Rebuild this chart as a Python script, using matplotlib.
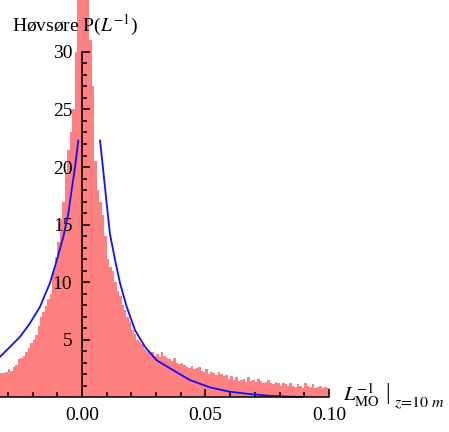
import matplotlib
matplotlib.use('Agg')
import matplotlib.pyplot as plt
import numpy as np
from matplotlib.ticker import FixedLocator, FormatStrFormatter

plt.rcParams['font.family'] = 'Liberation Serif'
plt.rcParams['mathtext.fontset'] = 'stix'

# histogram of inverse Obukhov length, bins of 0.001 starting at -0.034
bin_start = -0.034
bin_width = 0.001
density = [
    2.0, 2.1, 2.1, 2.2, 2.4, 2.3, 2.6, 2.8, 3.3, 3.4,
    3.6, 3.9, 4.3, 4.7, 5.0, 5.4, 6.2, 7.0, 7.4, 7.9,
    8.5, 9.0, 11.0, 12.2, 13.5, 15.5, 17.0, 19.5, 21.5, 23.0,
    25.0, 30.0, 36.0, 38.0, 38.5, 37.0, 36.0, 31.0, 27.0, 20.5,
    18.0, 17.0, 15.8, 14.0, 12.0, 11.3, 11.0, 10.0, 9.2, 8.8,
    8.0, 7.6, 7.0, 6.5, 5.8, 5.5, 5.0, 4.8, 4.6, 4.2,
    4.0, 3.8, 3.9, 3.6, 3.7, 3.5, 3.9, 3.6, 3.4, 3.3,
    3.1, 3.4, 3.0, 2.9, 3.0, 2.8, 2.6, 2.5, 2.7, 2.4,
    2.5, 2.6, 2.3, 2.2, 2.4, 2.0, 2.2, 2.1, 1.9, 2.2,
    2.0, 1.8, 1.9, 1.6, 1.8, 1.5, 1.7, 1.4, 1.5, 1.6,
    1.3, 1.7, 1.4, 1.5, 1.3, 1.6, 1.4, 1.2, 1.3, 1.5,
    1.2, 1.1, 1.3, 1.2, 1.0, 1.2, 1.1, 1.0, 1.2, 1.0,
    0.9, 1.1, 1.0, 0.8, 1.2, 1.0, 0.9, 1.1, 0.8, 0.9,
    1.0, 0.8, 0.9, 0.8,
]

# fitted curves, unstable (left) and stable (right) branch
fit_left_x = [-0.0332, -0.0291, -0.0251, -0.0211, -0.0170, -0.0130,
              -0.0102, -0.0076, -0.0055, -0.0042, -0.0028, -0.0015]
fit_left_y = [3.5, 4.37, 5.24, 6.4, 7.85, 9.9, 11.9, 13.9, 16.0, 18.0,
              20.0, 22.3]
fit_right_x = [0.0073, 0.0086, 0.0100, 0.0113, 0.0134, 0.0154, 0.0181,
               0.0215, 0.0255, 0.0302, 0.0356, 0.0437, 0.0518, 0.0599,
               0.0680, 0.0761, 0.0842, 0.0895]
fit_right_y = [22.3, 19.7, 16.8, 14.2, 11.9, 9.9, 7.85, 5.8, 4.37, 3.2,
               2.5, 1.48, 0.84, 0.46, 0.26, 0.11, 0.03, 0.01]

xmajor = [0.0, 0.05, 0.10]
xminor = [-0.03, -0.02, -0.01, 0.01, 0.02, 0.03, 0.04, 0.06, 0.07, 0.08, 0.09]
ymajor = [5, 10, 15, 20, 25, 30]
yminor = [v for v in range(1, 31) if v % 5 != 0]

fig = plt.figure(figsize=(4.49, 4.32), dpi=100)
ax = fig.add_axes([0, 0, 1, 1])

lefts = bin_start + bin_width * np.arange(len(density))
ax.bar(lefts, density, width=bin_width, align='edge', color='#ff8080',
       linewidth=0, zorder=1)

ax.plot(fit_left_x, fit_left_y, color='#1010ff', lw=1.3, zorder=3,
        solid_joinstyle='round')
ax.plot(fit_right_x, fit_right_y, color='#1010ff', lw=1.3, zorder=3,
        solid_joinstyle='round')

xlo = -0.0332
ax.set_xlim(xlo, 0.1486)
ax.set_ylim(-3.04, 34.52)

for side in ['top', 'right']:
    ax.spines[side].set_visible(False)
ax.spines['left'].set_position(('data', 0))
ax.spines['bottom'].set_position(('data', 0))
ax.spines['left'].set_bounds(0, 30)
ax.spines['bottom'].set_bounds(xlo, 0.10)
for side in ['left', 'bottom']:
    ax.spines[side].set_linewidth(1.1)
    ax.spines[side].set_zorder(4)

ax.xaxis.set_major_locator(FixedLocator(xmajor))
ax.xaxis.set_minor_locator(FixedLocator(xminor))
ax.xaxis.set_major_formatter(FormatStrFormatter('%.2f'))
ax.yaxis.set_major_locator(FixedLocator(ymajor))
ax.yaxis.set_minor_locator(FixedLocator(yminor))

ax.tick_params(which='both', direction='in', width=1.1, labelsize=14)
ax.tick_params(which='major', length=6)
ax.tick_params(which='minor', length=3.8)
ax.tick_params(axis='x', pad=7)
ax.tick_params(axis='y', pad=7)

fig.text(12 / 449, 1 - 25 / 432, r'Høvsøre P($L^{-1}$)', fontsize=14,
         va='center', ha='left', zorder=5)

# axis label: L_MO^-1 evaluated at z = 10 m
ax.text(0.1057, 0.13, r'$L_{\mathrm{MO}}^{-1}$', fontsize=15,
        va='center', ha='left')
ax.text(0.1228, 0.35, '|', fontsize=17, va='center', ha='left')
ax.text(0.1262, -0.55, r'$z\!=\!10\ m$', fontsize=11.5,
        va='center', ha='left')

fig.savefig('out.png', dpi=100)
